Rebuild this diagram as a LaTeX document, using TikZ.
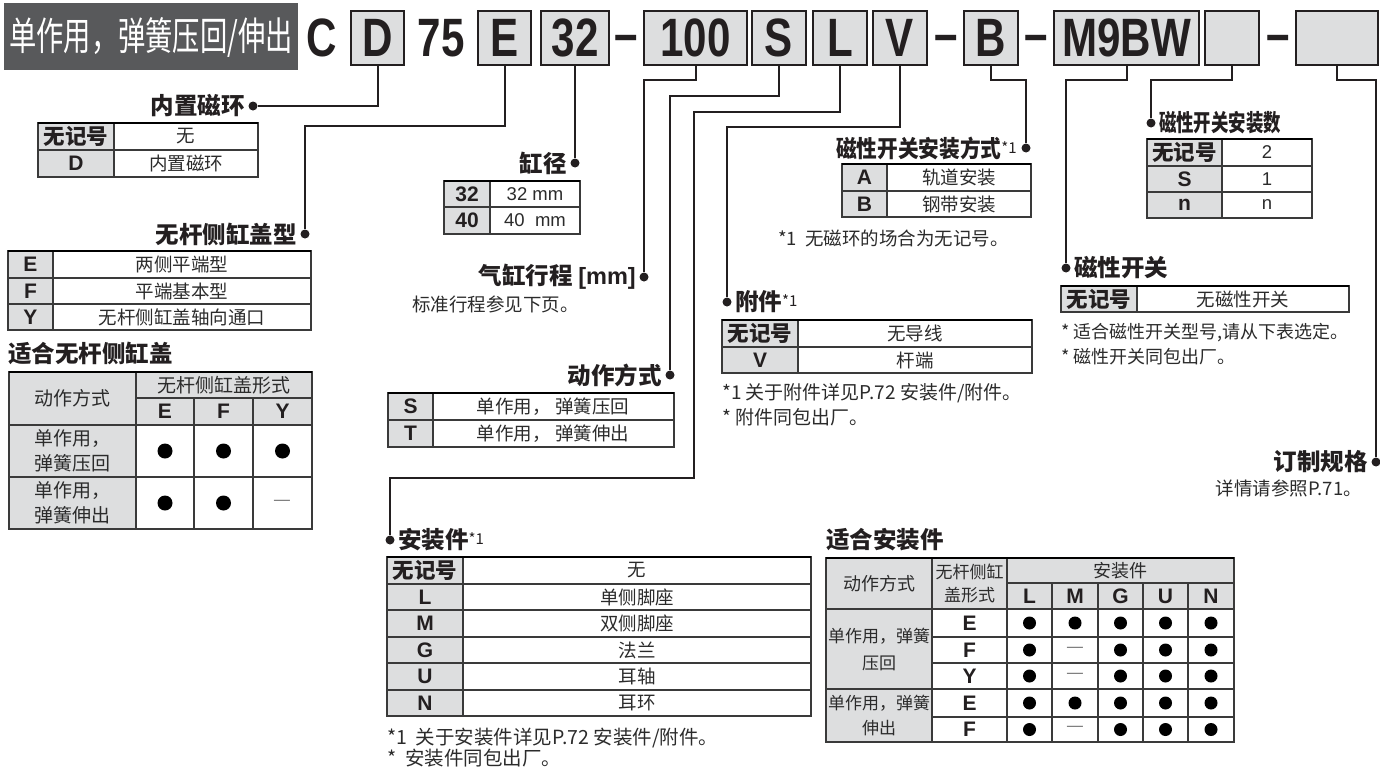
\documentclass[tikz,border=0pt]{standalone}
\usepackage{fontspec}
\setmainfont{Noto Sans CJK SC}
\newfontfamily\lat{Liberation Sans}
\newfontfamily\cond{Liberation Sans}[FakeStretch=0.78]
\newcommand\fsz[2]{\fontsize{#1}{#2}\selectfont}
\definecolor{hdr}{HTML}{58595B}
\definecolor{cellg}{HTML}{DDDEDF}
\definecolor{linec}{HTML}{231F20}
\definecolor{gridc}{HTML}{3A3A3A}
\definecolor{valc}{HTML}{2B2B2B}
\tikzset{
  codebox/.style={draw=linec, line width=2.4pt, fill=cellg, minimum height=54pt, inner sep=0pt, font=\cond\bfseries\fsz{54}{54}, text=linec},
  codetxt/.style={inner sep=0pt, font=\cond\bfseries\fsz{54}{54}, text=linec},
  conn/.style={draw=linec, line width=2pt},
  ldot/.style={circle, fill=linec, inner sep=0pt, minimum size=9pt},
  lab/.style={font=\bfseries\fsz{23.5}{27}, inner sep=0pt, text=linec},
  grid/.style={draw=gridc, line width=1.1pt},
  topl/.style={draw=black, line width=2.4pt},
  ct/.style={font=\bfseries\fsz{21.5}{24}, inner sep=0pt, text=linec},
  cl/.style={font=\lat\bfseries\fsz{21}{24}, inner sep=0pt, text=linec},
  vt/.style={font=\fsz{18.5}{22}, inner sep=0pt, text=valc},
  vl/.style={font=\lat\fsz{18.5}{22}, inner sep=0pt, text=valc},
  fn/.style={font=\fsz{18.5}{22}, inner sep=0pt, anchor=west, text=valc},
  tdot/.style={circle, fill=black, inner sep=0pt, minimum size=14pt},
  tdash/.style={font=\fsz{20}{20}, inner sep=0pt, text=gray}
}
\begin{document}
\begin{tikzpicture}[x=1pt,y=-1pt]
\useasboundingbox (0,0) rectangle (1380,771);

% ---------- header ----------
\fill[hdr] (4,3) rectangle (298,70);
\node[text=white, inner sep=0pt] (title) at (151,37) {\scalebox{0.7}[1]{\fsz{39}{39}单作用，弹簧压回/伸出}};

\node[codetxt] (cC) at (322,38) {C};
\node[codebox, minimum width=53pt] (bD) at (377.5,38) {D};
\node[codetxt] (c75) at (441,38) {75};
\node[codebox, minimum width=53pt] (bE) at (504.5,38) {E};
\node[codebox, minimum width=68pt] (b32) at (575,38) {32};
\node[codetxt] (m1) at (626,44) {–};
\node[codebox, minimum width=103pt] (b100) at (695.5,38) {100};
\node[codebox, minimum width=54pt] (bS) at (779,38) {S};
\node[codebox, minimum width=54pt] (bL) at (840,38) {L};
\node[codebox, minimum width=54pt] (bV) at (900,38) {V};
\node[codetxt] (m2) at (946,44) {–};
\node[codebox, minimum width=54pt] (bB) at (991,38) {B};
\node[codetxt] (m3) at (1036,44) {–};
\node[codebox, minimum width=145pt] (bM) at (1126.5,38) {M9BW};
\node[codebox, minimum width=54pt] (bO) at (1232,38) {};
\node[codetxt] (m4) at (1278,44) {–};
\node[codebox, minimum width=82pt] (bX) at (1337,38) {};

% ---------- label dots ----------
\node[ldot] (dD) at (253,106) {};
\node[ldot] (dE) at (305,234) {};
\node[ldot] (d32) at (575,163) {};
\node[ldot] (dST) at (644,277) {};
\node[ldot] (dS) at (670,375) {};
\node[ldot] (dL) at (390,540) {};
\node[ldot] (dV) at (727,302) {};
\node[ldot] (dB) at (1026,148) {};
\node[ldot] (dM) at (1066,268) {};
\node[ldot] (dO) at (1151,123) {};
\node[ldot] (dX) at (1376,462) {};
\coordinate (kL) at (694,478);

% ---------- connectors ----------
\draw[conn] (bD.south) |- (dD);
\draw[conn] (bE.south) -- ++(0,60) -| (dE);
\draw[conn] (b32.south) -- (d32);
\draw[conn] (b100.south) -- ++(0,14) -| (dST);
\draw[conn] (bS.south) -- ++(0,30) -| (dS);
\draw[conn] (bL.south) -- ++(0,46) -| (kL) -| (dL);
\draw[conn] (bV.south) -- ++(0,61) -| (dV);
\draw[conn] (bB.south) -- ++(0,14) -| (dB);
\draw[conn] (bM.south) -- ++(0,14) -| (dM);
\draw[conn] (bO.south) -- ++(0,14) -| (dO);
\draw[conn] (bX.south) -- ++(0,14) -| (dX);

% ---------- labels ----------
\node[lab, anchor=east] (lD) at (245,106) {内置磁环};
\node[lab, anchor=east] (lE) at (297,234) {无杆侧缸盖型};
\node[lab, anchor=east] (l32) at (567,163) {缸径};
\node[lab, anchor=east] (lST) at (636,277) {气缸行程 {\lat [mm]}};
\node[vt, anchor=west] (lST2) at (412,304) {标准行程参见下页。};
\node[lab, anchor=east] (lS) at (662,375) {动作方式};
\node[lab, anchor=west] (lL) at (398,540) {安装件\raisebox{4pt}{\mdseries\fsz{15}{15}*1}};
\node[lab, anchor=west] (lV) at (735,302) {附件\raisebox{4pt}{\mdseries\fsz{15}{15}*1}};
\node[lab, anchor=east] (lB) at (1017,148) {\scalebox{0.88}[1]{磁性开关安装方式}\raisebox{4pt}{\mdseries\fsz{15}{15}*1}};
\node[lab, anchor=west] (lM) at (1074,268) {磁性开关};
\node[lab, anchor=west] (lO) at (1159,123) {\scalebox{0.74}[1]{磁性开关安装数}};
\node[lab, anchor=east] (lX) at (1368,462) {订制规格};
\node[vt, anchor=east] (lX2) at (1362,488) {详情请参照P.71。};
\node[lab, anchor=west] (t1) at (8,353) {适合无杆侧缸盖};
\node[lab, anchor=west] (t2) at (826,540) {适合安装件};

% ---------- table: 内置磁环 ----------
\fill[cellg] (38,123) rectangle (114,177);
\draw[grid] (38,123) rectangle (258,177) (38,150) -- (258,150) (114,123) -- (114,177);
\draw[topl] (38,123) -- (258,123);
\node[ct] at (76,136.5) {无记号};
\node[vt] at (186,136.5) {无};
\node[cl] at (76,163.5) {D};
\node[vt] at (186,163.5) {内置磁环};

% ---------- table: 无杆侧缸盖型 ----------
\fill[cellg] (8,251) rectangle (53,330);
\draw[grid] (8,251) rectangle (311,330) (8,278) -- (311,278) (8,304) -- (311,304) (53,251) -- (53,330);
\draw[topl] (8,251) -- (311,251);
\node[cl] at (30.5,264.5) {E};
\node[cl] at (30.5,291) {F};
\node[cl] at (30.5,317) {Y};
\node[vt] at (182,264.5) {两侧平端型};
\node[vt] at (182,291) {平端基本型};
\node[vt] at (182,317) {无杆侧缸盖轴向通口};

% ---------- table: 适合无杆侧缸盖 ----------
\fill[cellg] (9,372) rectangle (312,425);
\fill[cellg] (9,425) rectangle (136,529);
\draw[grid] (9,372) rectangle (312,529)
  (136,398) -- (312,398) (9,425) -- (312,425) (9,477) -- (312,477)
  (136,372) -- (136,529) (194,398) -- (194,529) (253,398) -- (253,529);
\draw[topl] (9,372) -- (312,372);
\node[vt, font=\fsz{19}{22}] at (72.5,398.5) {动作方式};
\node[vt, font=\fsz{19}{22}] at (224,385) {无杆侧缸盖形式};
\node[cl] at (165,411.5) {E};
\node[cl] at (223.5,411.5) {F};
\node[cl] at (282.5,411.5) {Y};
\node[vt, font=\fsz{19}{25}, align=left] at (72,451) {单作用，\\弹簧压回};
\node[vt, font=\fsz{19}{25}, align=left] at (72,503) {单作用，\\弹簧伸出};
\node[tdot, minimum size=15pt] at (165,451) {};
\node[tdot, minimum size=15pt] at (223.5,451) {};
\node[tdot, minimum size=15pt] at (282.5,451) {};
\node[tdot, minimum size=15pt] at (165,503) {};
\node[tdot, minimum size=15pt] at (223.5,503) {};
\node[tdash] at (282.5,503) {—};

% ---------- table: 缸径 ----------
\fill[cellg] (444,181) rectangle (490,234);
\draw[grid] (444,181) rectangle (580,234) (444,207) -- (580,207) (490,181) -- (490,234);
\draw[topl] (444,181) -- (580,181);
\node[cl] at (467,194) {32};
\node[cl] at (467,220.5) {40};
\node[vl] at (535,194) {32 mm};
\node[vl] at (535,220.5) {40\ \ mm};

% ---------- table: 动作方式 ----------
\fill[cellg] (388,393) rectangle (433,447);
\draw[grid] (388,393) rectangle (674,447) (388,420) -- (674,420) (433,393) -- (433,447);
\draw[topl] (388,393) -- (674,393);
\node[cl] at (410.5,406.5) {S};
\node[cl] at (410.5,433.5) {T};
\node[vt] at (553,406.5) {单作用，\ 弹簧压回};
\node[vt] at (553,433.5) {单作用，\ 弹簧伸出};

% ---------- table: 安装件 ----------
\fill[cellg] (387,557) rectangle (463,716);
\draw[grid] (387,557) rectangle (811,716)
  (387,584) -- (811,584) (387,610) -- (811,610) (387,637) -- (811,637)
  (387,663) -- (811,663) (387,690) -- (811,690) (463,557) -- (463,716);
\draw[topl] (387,557) -- (811,557);
\node[ct] at (425,570.5) {无记号};
\node[cl] at (425,597) {L};
\node[cl] at (425,623.5) {M};
\node[cl] at (425,650) {G};
\node[cl] at (425,676.5) {U};
\node[cl] at (425,703) {N};
\node[vt] at (637,570.5) {无};
\node[vt] at (637,597) {单侧脚座};
\node[vt] at (637,623.5) {双侧脚座};
\node[vt] at (637,650) {法兰};
\node[vt] at (637,676.5) {耳轴};
\node[vt] at (637,703) {耳环};
\node[fn, font=\fsz{19.5}{22}] at (387,738) {*1\ \ 关于安装件详见P.72 安装件/附件。};
\node[fn, font=\fsz{19.5}{22}] at (387,758) {*\ \ 安装件同包出厂。};

% ---------- table: 适合安装件 ----------
\fill[cellg] (826,558) rectangle (1234,609);
\fill[cellg] (826,609) rectangle (932,742);
\draw[grid] (826,558) rectangle (1234,742)
  (1007,583) -- (1234,583) (826,609) -- (1234,609)
  (932,637) -- (1234,637) (932,663) -- (1234,663)
  (826,689) -- (1234,689) (932,717) -- (1234,717)
  (932,558) -- (932,742) (1007,558) -- (1007,742)
  (1052,583) -- (1052,742) (1098,583) -- (1098,742)
  (1143,583) -- (1143,742) (1188,583) -- (1188,742);
\draw[topl] (826,558) -- (1234,558);
\node[vt, font=\fsz{18}{21}] at (879,583.5) {动作方式};
\node[vt, font=\fsz{17}{23}, align=center] at (969.5,583.5) {无杆侧缸\\盖形式};
\node[vt, font=\fsz{18}{21}] at (1120.5,570.5) {安装件};
\node[cl] at (1029.5,596) {L};
\node[cl] at (1075,596) {M};
\node[cl] at (1120.5,596) {G};
\node[cl] at (1165.5,596) {U};
\node[cl] at (1211,596) {N};
\node[cl] at (969.5,623) {E};
\node[cl] at (969.5,650) {F};
\node[cl] at (969.5,676) {Y};
\node[cl] at (969.5,703) {E};
\node[cl] at (969.5,729.5) {F};
\node[vt, font=\fsz{17}{27}, align=center] at (879,649) {单作用，弹簧\\压回};
\node[vt, font=\fsz{17}{25}, align=center] at (879,715.5) {单作用，弹簧\\伸出};
\foreach \y/\m in {623/1,650/0,676/0,703/1,729.5/0}{
  \node[tdot, minimum size=13pt] at (1029.5,\y) {};
  \ifnum\m=1 \node[tdot, minimum size=13pt] at (1075,\y) {};\else \node[tdash] at (1075,\y) {—};\fi
  \node[tdot, minimum size=13pt] at (1120.5,\y) {};
  \node[tdot, minimum size=13pt] at (1165.5,\y) {};
  \node[tdot, minimum size=13pt] at (1211,\y) {};
}

% ---------- table: 磁性开关安装方式 ----------
\fill[cellg] (842,164) rectangle (887,217);
\draw[grid] (842,164) rectangle (1031,217) (842,191) -- (1031,191) (887,164) -- (887,217);
\draw[topl] (842,164) -- (1031,164);
\node[cl] at (864.5,177.5) {A};
\node[cl] at (864.5,204) {B};
\node[vt] at (959,177.5) {轨道安装};
\node[vt] at (959,204) {钢带安装};
\node[fn] at (778,238) {*1\ \ 无磁环的场合为无记号。};

% ---------- table: 磁性开关安装数 ----------
\fill[cellg] (1147,139) rectangle (1222,218);
\draw[grid] (1147,139) rectangle (1312,218) (1147,166) -- (1312,166) (1147,192) -- (1312,192) (1222,139) -- (1222,218);
\draw[topl] (1147,139) -- (1312,139);
\node[ct] at (1184.5,152.5) {无记号};
\node[cl] at (1184.5,179) {S};
\node[cl] at (1184.5,205) {n};
\node[vl] at (1267,152.5) {2};
\node[vl] at (1267,179) {1};
\node[vl] at (1267,205) {n};

% ---------- table: 磁性开关 ----------
\fill[cellg] (1061,286) rectangle (1137,312);
\draw[grid] (1061,286) rectangle (1349,312) (1137,286) -- (1137,312);
\draw[topl] (1061,286) -- (1349,286);
\node[ct] at (1099,299) {无记号};
\node[vt] at (1243,299) {无磁性开关};
\node[fn, font=\fsz{18}{22}] at (1061,333) {* 适合磁性开关型号,请从下表选定。};
\node[fn, font=\fsz{18}{22}] at (1061,357) {* 磁性开关同包出厂。};

% ---------- table: 附件 ----------
\fill[cellg] (722,320) rectangle (798,373);
\draw[grid] (722,320) rectangle (1032,373) (722,347) -- (1032,347) (798,320) -- (798,373);
\draw[topl] (722,320) -- (1032,320);
\node[ct] at (760,333.5) {无记号};
\node[cl] at (760,360) {V};
\node[vt] at (915,333.5) {无导线};
\node[vt] at (915,360) {杆端};
\node[fn, font=\fsz{19}{22}] at (722,393) {*1 关于附件详见P.72 安装件/附件。};
\node[fn, font=\fsz{19}{22}] at (722,417) {* 附件同包出厂。};

\end{tikzpicture}
\end{document}
